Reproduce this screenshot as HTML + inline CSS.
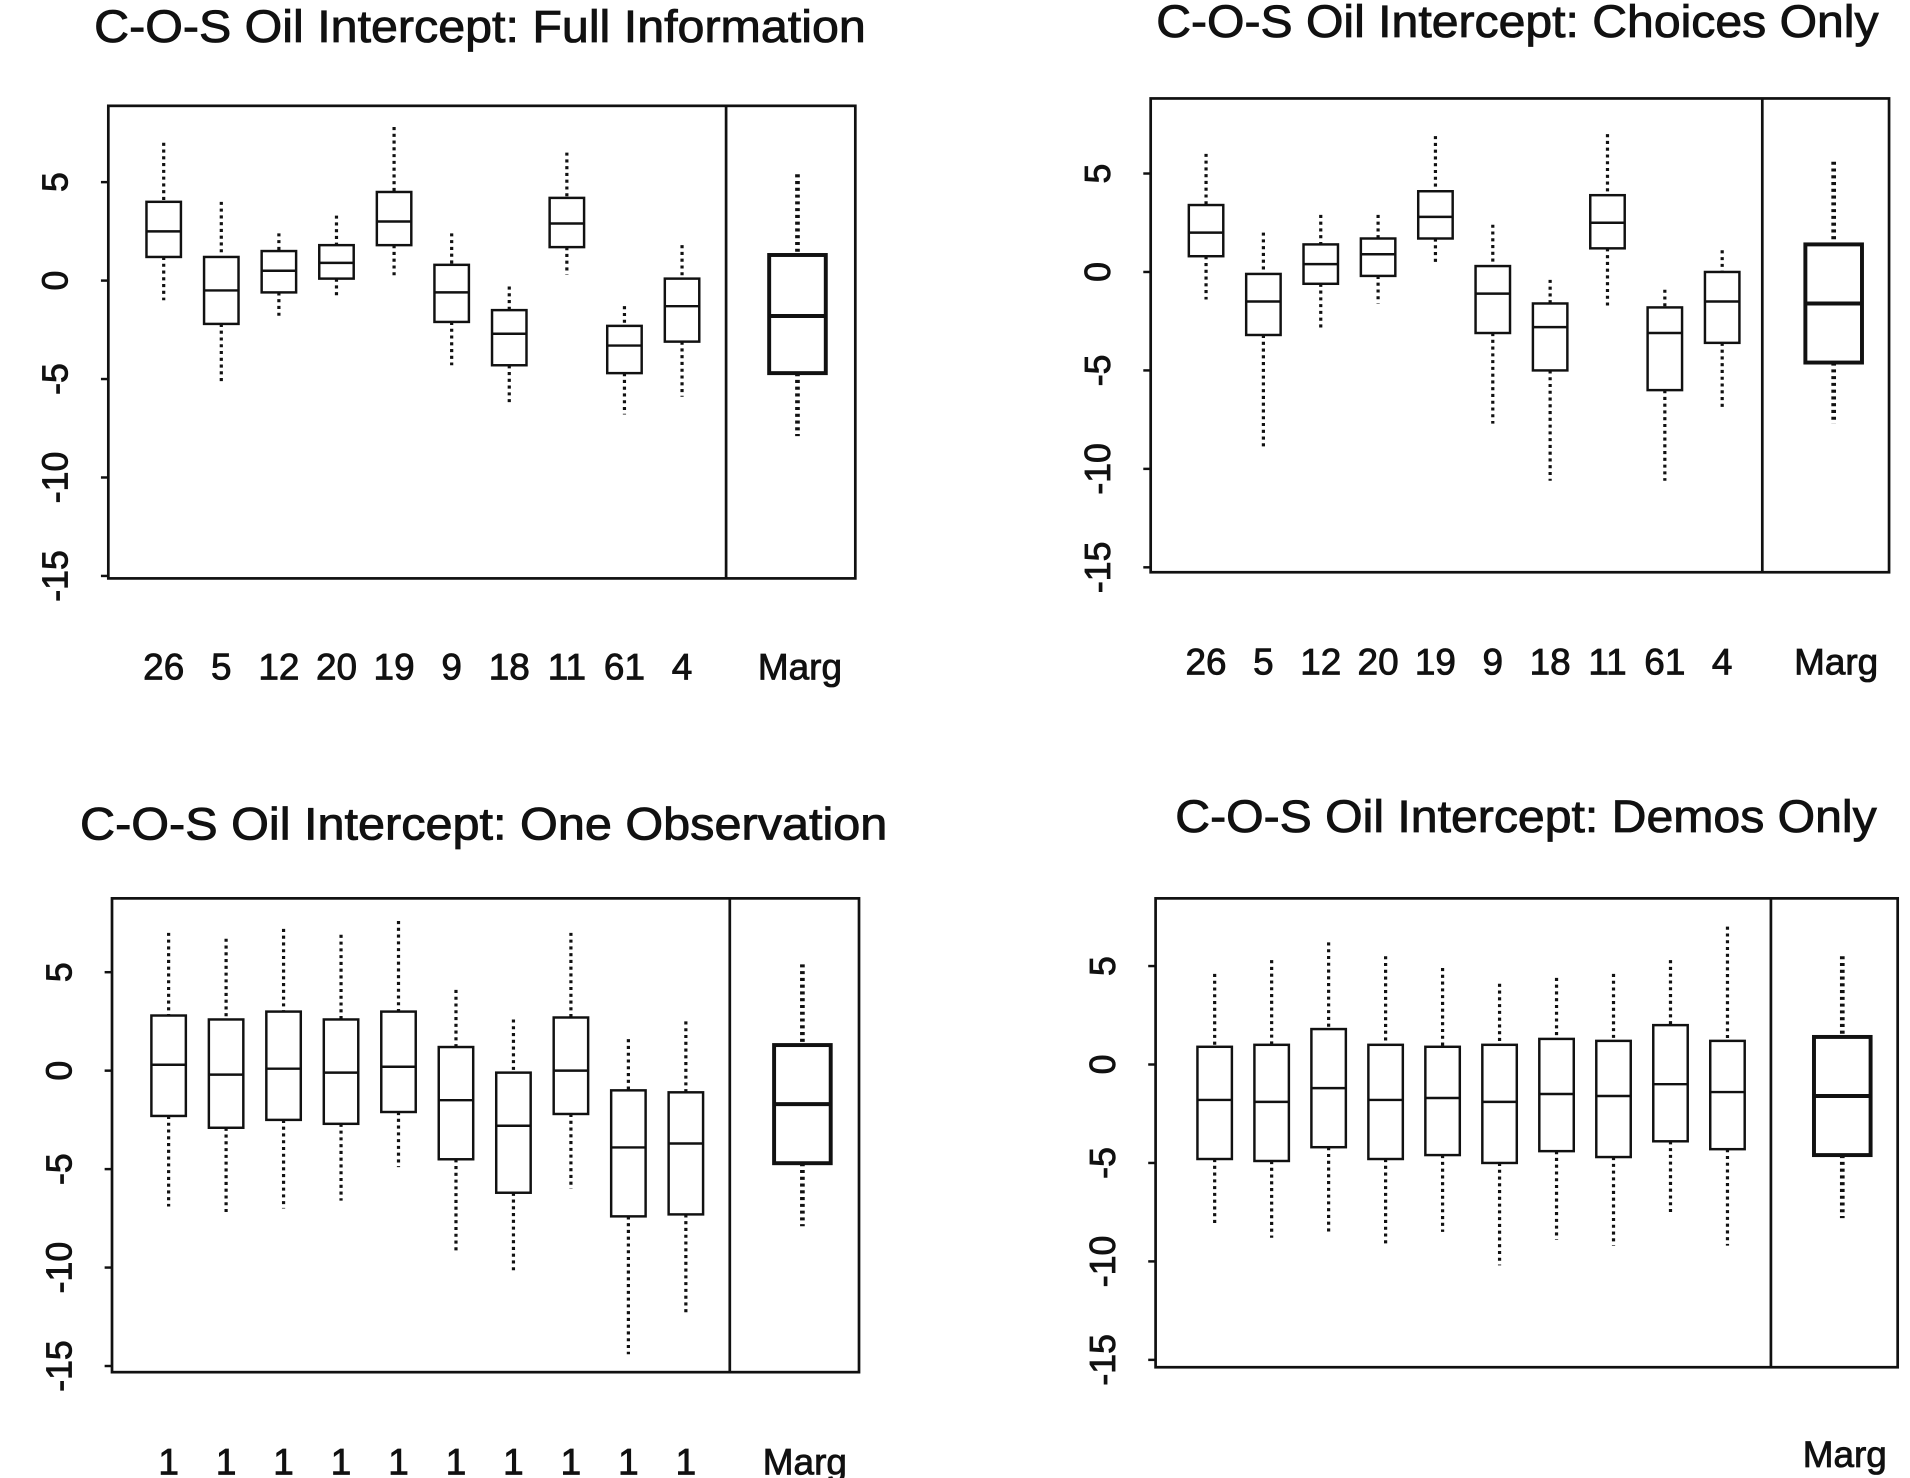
<!DOCTYPE html>
<html><head><meta charset="utf-8">
<style>
html,body{margin:0;padding:0;background:#fff;}
svg{display:block;}
text{font-family:"Liberation Sans",sans-serif;fill:#111;stroke:#111;stroke-width:0.7;}
</style></head>
<body>
<svg id="chart" width="1910" height="1478" viewBox="0 0 1552 1201" xmlns="http://www.w3.org/2000/svg"></svg>
<script>
// Data: each box = [whiskerHigh, q3, median, q1, whiskerLow]
const labelsFull = ["26","5","12","20","19","9","18","11","61","4"];
const boxesFull = [[7,4,2.5,1.2,-1],[4,1.2,-0.5,-2.2,-5.2],[2.4,1.5,0.5,-0.6,-1.9],[3.3,1.8,0.9,0.1,-0.9],[7.8,4.5,3,1.8,0.2],[2.4,0.8,-0.6,-2.1,-4.3],[-0.3,-1.5,-2.7,-4.3,-6.2],[6.5,4.2,2.9,1.7,0.3],[-1.3,-2.3,-3.3,-4.7,-6.8],[1.8,0.1,-1.3,-3.1,-5.9]];
const margFull = [5.4,1.3,-1.8,-4.7,-7.9];

const labelsChoices = ["26","5","12","20","19","9","18","11","61","4"];
const boxesChoices = [[6,3.4,2,0.8,-1.4],[2,-0.1,-1.5,-3.2,-8.9],[2.9,1.4,0.4,-0.6,-3],[2.9,1.7,0.9,-0.2,-1.6],[6.9,4.1,2.8,1.7,0.5],[2.4,0.3,-1.1,-3.1,-7.7],[-0.4,-1.6,-2.8,-5,-10.6],[7,3.9,2.5,1.2,-1.7],[-0.9,-1.8,-3.1,-6,-10.6],[1.1,0,-1.5,-3.6,-6.9]];
const margChoices = [5.6,1.4,-1.6,-4.6,-7.7];

const labelsOne = ["1","1","1","1","1","1","1","1","1","1"];
const boxesOne = [[7,2.8,0.3,-2.3,-6.9],[6.7,2.6,-0.2,-2.9,-7.2],[7.2,3,0.1,-2.5,-7],[6.9,2.6,-0.1,-2.7,-6.6],[7.6,3,0.2,-2.1,-4.9],[4.1,1.2,-1.5,-4.5,-9.2],[2.6,-0.1,-2.8,-6.2,-10.3],[7,2.7,0,-2.2,-6],[1.6,-1,-3.9,-7.4,-14.4],[2.5,-1.1,-3.7,-7.3,-12.4]];
const margOne = [5.4,1.3,-1.7,-4.7,-7.9];

const labelsDemos = ["","","","","","","","","",""];
const boxesDemos = [[4.6,0.9,-1.8,-4.8,-8.2],[5.3,1,-1.9,-4.9,-8.8],[6.2,1.8,-1.2,-4.2,-8.6],[5.5,1,-1.8,-4.8,-9.1],[4.9,0.9,-1.7,-4.6,-8.5],[4.1,1,-1.9,-5,-10.2],[4.4,1.3,-1.5,-4.4,-8.9],[4.6,1.2,-1.6,-4.7,-9.2],[5.3,2,-1,-3.9,-7.6],[7,1.2,-1.4,-4.3,-9.2]];
const margDemos = [5.5,1.4,-1.6,-4.6,-7.8];

const yTicks = [5,0,-5,-10,-15];
const yTickLabels = ["5","0","-5","-10","-15"];

const panels = [
 {name:"full-information", title:"C-O-S Oil Intercept: Full Information", tx:390, ty:34, tw:627, left:88, top:86, right:695, bottom:470, sep:590, y0:228, x0:133, dx:46.8, mx:648, ly:552, labels:labelsFull, boxes:boxesFull, marg:margFull},
 {name:"choices-only", title:"C-O-S Oil Intercept: Choices Only", tx:1233, ty:30, tw:587, left:935, top:80, right:1535, bottom:465, sep:1432, y0:221, x0:980, dx:46.6, mx:1490, ly:548, labels:labelsChoices, boxes:boxesChoices, marg:margChoices},
 {name:"one-observation", title:"C-O-S Oil Intercept: One Observation", tx:393, ty:682, tw:656, left:91, top:730, right:698, bottom:1115, sep:593, y0:870, x0:137, dx:46.7, mx:652, ly:1198, labels:labelsOne, boxes:boxesOne, marg:margOne},
 {name:"demos-only", title:"C-O-S Oil Intercept: Demos Only", tx:1240, ty:676, tw:570, left:939, top:730, right:1542, bottom:1111, sep:1439, y0:865, x0:987, dx:46.3, mx:1497, ly:1192, labels:labelsDemos, boxes:boxesDemos, marg:margDemos}
];

const svg = document.getElementById('chart');
const NS = "http://www.w3.org/2000/svg";
function mk(tag, attrs, parent){
  const e = document.createElementNS(NS, tag);
  for (const k in attrs) e.setAttribute(k, attrs[k]);
  parent.appendChild(e);
  return e;
}
const PX = 16; // px per unit

function drawBox(g, cx, w, v, y, lw, nm){
  const bg = mk('g', {}, g);
  
  
  mk('line', {x1:cx, x2:cx, y1:y(v[0]), y2:y(v[1]), stroke:'#111', 'stroke-width':lw+0.6, 'stroke-dasharray':'2.5 3'}, bg);
  mk('line', {x1:cx, x2:cx, y1:y(v[3]), y2:y(v[4]), stroke:'#111', 'stroke-width':lw+0.6, 'stroke-dasharray':'2.5 3'}, bg);
  mk('rect', {x:cx-w/2, y:y(v[1]), width:w, height:y(v[3])-y(v[1]), fill:'none', stroke:'#111', 'stroke-width':lw}, bg);
  mk('line', {x1:cx-w/2, x2:cx+w/2, y1:y(v[2]), y2:y(v[2]), stroke:'#111', 'stroke-width':lw}, bg);
}

panels.forEach(p => {
  const g = mk('g', {}, svg);
  
  
  const y = v => p.y0 - v * PX;
  const t = mk('text', {x:p.tx, y:p.ty, 'text-anchor':'middle', 'font-size':37, textLength:p.tw, lengthAdjust:'spacingAndGlyphs'}, g);
  
  
  t.textContent = p.title;
  const fr = mk('rect', {x:p.left, y:p.top, width:p.right-p.left, height:p.bottom-p.top, fill:'none', stroke:'#111', 'stroke-width':2.2}, g);
  
  
  const sp = mk('line', {x1:p.sep, x2:p.sep, y1:p.top, y2:p.bottom, stroke:'#111', 'stroke-width':2.2}, g);
  
  
  yTicks.forEach((tv, i) => {
    mk('line', {x1:p.left-6, x2:p.left, y1:y(tv), y2:y(tv), stroke:'#111', 'stroke-width':2}, g);
    const tl = mk('text', {x:0, y:0, 'text-anchor':'middle', 'font-size':29, transform:`translate(${p.left-33},${y(tv)}) rotate(-90)`}, g);
    
    
    tl.textContent = yTickLabels[i];
  });
  p.boxes.forEach((b, i) => {
    const cx = p.x0 + i * p.dx;
    drawBox(g, cx, 28, b, y, 2, 'box-' + (i+1));
    if (p.labels[i]) {
      const lb = mk('text', {x:cx, y:p.ly, 'text-anchor':'middle', 'font-size':30}, g);
      
      
      lb.textContent = p.labels[i];
    }
  });
  drawBox(g, p.mx, 46, p.marg, y, 3.2, 'box-marginal');
  const ml = mk('text', {x:p.mx+2, y:p.ly, 'text-anchor':'middle', 'font-size':30}, g);
  
  
  ml.textContent = 'Marg';
});
</script>
</body></html>
